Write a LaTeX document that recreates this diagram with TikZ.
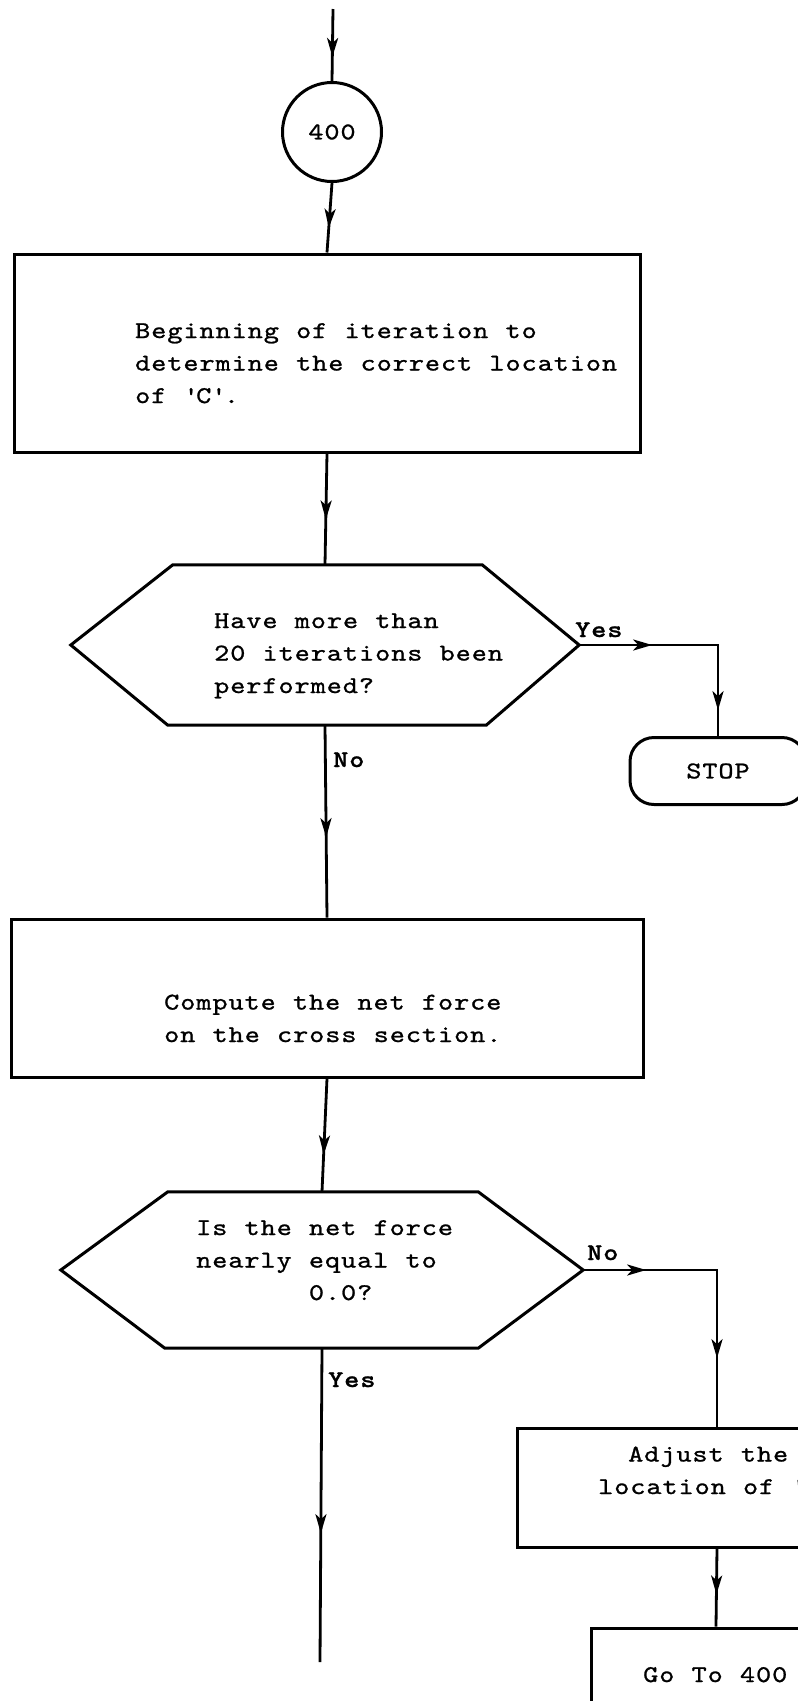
\documentclass[tikz,border=0pt]{standalone}
\usepackage{fontspec}
% typewriter face, widened and spaced out to a typewriter pitch
\newfontfamily\typer{lmmono10-regular.otf}[FakeStretch=1.2, LetterSpace=4, WordSpace=1.07,
  FakeBold=1, BoldFont=lmmonolt10-bold.otf]
\usetikzlibrary{arrows.meta,decorations.markings}

\tikzset{
  shapeline/.style={line width=3pt, draw=black},
  flow/.style={line width=2.8pt, draw=black},
  headtip/.tip={Stealth[length=19pt,width=11pt,inset=5pt]},
  arr/.style={postaction={decorate},
    decoration={markings, mark=at position #1 with {\arrow{headtip}}}},
  arrtwo/.style 2 args={postaction={decorate},
    decoration={markings,
      mark=at position #1 with {\arrow{headtip}},
      mark=at position #2 with {\arrow{headtip}}}},
  boxnode/.style={shapeline, rectangle, inner sep=0pt},
  hexframe/.style={rectangle, draw=none, inner sep=0pt},
  txt/.style={font=\typer\fontsize{24}{32.5}\selectfont, align=left, inner sep=0pt},
  lbl/.style={font=\typer\bfseries\fontsize{24}{28}\selectfont, inner sep=0pt, anchor=base west},
}

\begin{document}
\begin{tikzpicture}[x=1pt,y=-1pt]
\useasboundingbox (0,0) rectangle (798,1701);
\fill[white] (0,0) rectangle (798,1701);
\clip (0,0) rectangle (798,1701);

% ---------- nodes (text nodes sit on the baseline of their last line) ----------
\coordinate (start) at (333,9);
\node[shapeline, circle, minimum size=99pt, inner sep=0pt,
      font=\typer\fontsize{24}{28}\selectfont] (c400) at (332,132) {400};

\node[boxnode, minimum width=626pt, minimum height=198pt] (b1) at (327,353) {};
\node[txt, anchor=base west] (t1) at (135,403)
  {Beginning of iteration to\\determine the correct location\\of \textquotesingle C\textquotesingle.};

\node[hexframe, minimum width=508pt, minimum height=160pt] (h1) at (325,645) {};
\draw[shapeline] (h1.west) -- ([xshift=102pt]h1.north west) -- ([xshift=-97pt]h1.north east)
  -- (h1.east) -- ([xshift=-93pt]h1.south east) -- ([xshift=97pt]h1.south west) -- cycle;
\node[txt, anchor=base west] (t2) at (214,693)
  {Have more than\\20 iterations been\\performed?};

\node[shapeline, rectangle, rounded corners=24pt, minimum width=176pt, minimum height=67pt,
      inner sep=0pt, font=\typer\fontsize{24}{28}\selectfont] (stop) at (718,771) {STOP};

\node[boxnode, minimum width=632pt, minimum height=158pt] (b2) at (327,998) {};
\node[txt, anchor=base west] (t3) at (164,1042)
  {Compute the net force\\on the cross section.};

\node[hexframe, minimum width=522pt, minimum height=156pt] (h2) at (322,1270) {};
\draw[shapeline] (h2.west) -- ([xshift=107pt]h2.north west) -- ([xshift=-105pt]h2.north east)
  -- (h2.east) -- ([xshift=-105pt]h2.south east) -- ([xshift=104pt]h2.south west) -- cycle;
\node[txt, anchor=base west] (t4) at (196,1300)
  {Is the net force\\nearly equal to\\\hphantom{nearly }0.0?};

\node[boxnode, minimum width=400pt, minimum height=119pt] (b3) at (717,1487.5) {};
\node[txt, anchor=base west] (t5) at (598,1494)
  {\hspace*{30pt}Adjust the\\location of \textquotesingle C\textquotesingle.};

\node[boxnode, minimum width=250pt, minimum height=160pt] (b4) at (716,1708) {};
\node[txt, anchor=base west] (t6) at (643,1682) {Go To 400};

\coordinate (yesend) at (320,1662);

% ---------- branch labels ----------
\node[lbl] (yes1) at (575,637) {Yes};
\node[lbl] (no1) at (333,767) {No};
\node[lbl] (no2) at (587,1260) {No};
\node[lbl] (yes2) at (328,1387) {Yes};

% ---------- connectors ----------
\draw[flow, arr=48pt] (start) -- (c400.north);
\draw[flow, arr=45pt] (c400.south) -- (b1.north);
\draw[flow, arr=66pt] (b1.south) -- (h1.north);
\draw[flow, arr=112pt] (h1.south) -- (b2.north);
\draw[flow, arr=76pt] (b2.south) -- (h2.north);
\draw[flow, arr=185pt] (h2.south) -- (yesend);
\draw[flow, arrtwo={73pt}{204pt}] (h1.east) -| (stop.north);
\draw[flow, arrtwo={63pt}{222pt}] (h2.east) -| (b3.north);
\draw[flow, arr=46pt] (b3.south) -- (b4.north);
\end{tikzpicture}
\end{document}
